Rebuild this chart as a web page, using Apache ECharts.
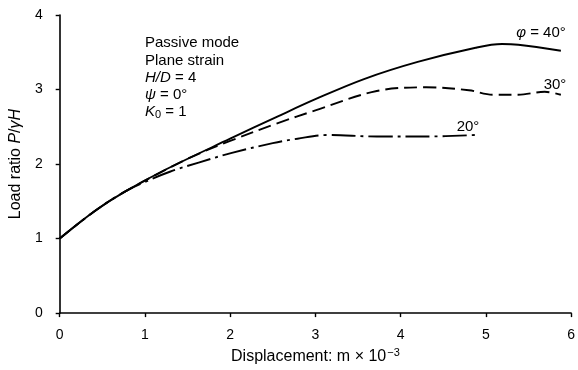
<!DOCTYPE html>
<html>
<head>
<meta charset="utf-8">
<script src="https://cdn.jsdelivr.net/npm/echarts@6/dist/echarts.min.js"></script>
<style>html,body{margin:0;padding:0;background:#fff;overflow:hidden}#c{width:578px;height:370px}</style>
</head>
<body>
<div id="c"></div>
<script>
// Tick labels
var xTicks = [0, 1, 2, 3, 4, 5, 6];
var yTicks = [0, 1, 2, 3, 4];

// phi = 40 deg (solid)
var x40 = [0, 0.4, 0.75, 1.25, 2.0, 2.56, 3.0, 3.57, 4.2, 4.88, 5.19, 5.38, 5.88];
var y40 = [1.0, 1.36, 1.62, 1.93, 2.34, 2.64, 2.87, 3.14, 3.37, 3.56, 3.61, 3.60, 3.52];

// phi = 30 deg (dashed)
var x30 = [0, 0.4, 0.75, 1.5, 2.0, 2.56, 3.0, 3.72, 4.3, 4.8, 5.08, 5.38, 5.69, 5.88];
var y30 = [1.0, 1.36, 1.62, 2.07, 2.31, 2.55, 2.72, 2.98, 3.03, 2.99, 2.93, 2.93, 2.97, 2.93];

// phi = 20 deg (dash-dot)
var x20 = [0, 0.4, 0.75, 1.0, 1.3, 1.63, 2.02, 2.5, 2.79, 3.14, 3.72, 4.3, 4.88];
var y20 = [1.0, 1.36, 1.62, 1.76, 1.9, 2.02, 2.15, 2.28, 2.34, 2.39, 2.37, 2.37, 2.39];

function pairs(xs, ys) { return xs.map(function (x, i) { return [x, ys[i]]; }); }

var FONT = 'Liberation Sans, Arial, sans-serif';
var chart = echarts.init(document.getElementById('c'), null, {renderer: 'canvas'});

function lineSeries(name, xs, ys, dash) {
  return {
    name: name, type: 'line', data: pairs(xs, ys), smooth: 0.35,
    showSymbol: false, symbol: 'none', animation: false,
    lineStyle: {color: '#000', width: 1.9, type: dash}
  };
}

function gtext(x, y, text, align) {
  return {
    type: 'text', x: x, y: y,
    style: {text: text, font: '15px ' + FONT, fill: '#000', align: align || 'left', verticalAlign: 'middle', rich: richI}
  };
}
var richI = {
  i: {fontStyle: 'italic', fontFamily: FONT, fontSize: 15, fill: '#000'},
  n: {fontFamily: FONT, fontSize: 15, fill: '#000'},
  s: {fontFamily: FONT, fontSize: 11, fill: '#000', padding: [6, 0, 0, 0]}
};

chart.setOption({
  animation: false,
  backgroundColor: '#fff',
  grid: {left: 59, right: 1, top: 15, bottom: 52, containLabel: false},
  xAxis: {
    type: 'value', min: 0, max: 6, interval: 1, offset: 7,
    name: '{n|Displacement: m \u00d7 10}{s|\u22123}', nameLocation: 'middle', nameGap: 25,
    nameTextStyle: {color: '#000', fontSize: 16, fontFamily: FONT,
      rich: {n: {fontSize: 16, fontFamily: FONT, color: '#000'},
             s: {fontSize: 11, fontFamily: FONT, color: '#000', padding: [0, 0, 9, 1]}}},
    axisLine: {show: true, lineStyle: {color: '#000', width: 1.6}},
    axisTick: {show: true, length: 4, lineStyle: {color: '#000', width: 1.4}},
    axisLabel: {color: '#000', fontSize: 14, fontFamily: FONT, margin: 8,
      formatter: function (v) { return xTicks.indexOf(v) >= 0 ? String(v) : ''; }},
    splitLine: {show: false}
  },
  yAxis: {
    type: 'value', min: 0, max: 4, interval: 1, offset: 9,
    name: '{n|Load ratio }{i|P}{n|/}{i|\u03b3H}', nameLocation: 'middle', nameGap: 26,
    nameRotate: 90,
    nameTextStyle: {color: '#000', fontSize: 16, fontFamily: FONT,
      rich: {n: {fontSize: 16, fontFamily: FONT, color: '#000'}, i: {fontSize: 16, fontFamily: FONT, color: '#000', fontStyle: 'italic'}}},
    axisLine: {show: true, lineStyle: {color: '#000', width: 1.6}},
    axisTick: {show: true, length: 4, lineStyle: {color: '#000', width: 1.4}},
    axisLabel: {color: '#000', fontSize: 14, fontFamily: FONT, margin: 8,
      formatter: function (v) { return yTicks.indexOf(v) >= 0 ? String(v) : ''; }},
    splitLine: {show: false}
  },
  series: [
    lineSeries('40', x40, y40, 'solid'),
    lineSeries('30', x30, y30, [13, 6]),
    lineSeries('20', x20, y20, [24, 5, 3, 5])
  ],
  graphic: [
    gtext(145, 43, '{n|Passive mode}'),
    gtext(145, 61, '{n|Plane strain}'),
    gtext(145, 78, '{i|H/D}{n| = 4}'),
    gtext(145, 95, '{i|\u03c8}{n| = 0\u00b0}'),
    gtext(145, 112, '{i|K}{s|0}{n| = 1}'),
    gtext(541, 33, '{i|\u03c6}{n| = 40\u00b0}', 'center'),
    gtext(555, 85, '{n|30\u00b0}', 'center'),
    gtext(468, 127, '{n|20\u00b0}', 'center')
  ]
});
</script>
</body>
</html>
